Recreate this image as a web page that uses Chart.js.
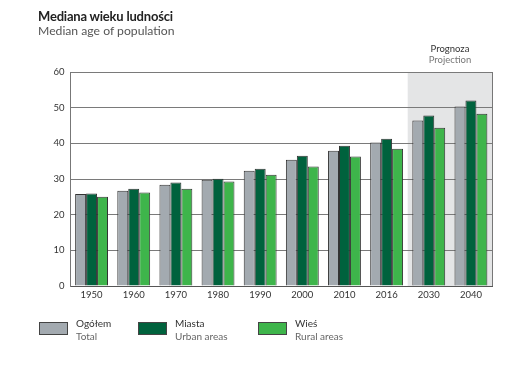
<!DOCTYPE html>
<html>
<head>
<meta charset="utf-8">
<script src="https://cdn.jsdelivr.net/npm/chart.js@4/dist/chart.umd.min.js"></script>
<style>
  html, body { margin: 0; padding: 0; background: #fff; }
  #wrap { position: relative; width: 525px; height: 369px; overflow: hidden; }
  canvas { position: absolute; left: 0; top: 0; }
  .t { position: absolute; font-family: Lato, "Open Sans", sans-serif; white-space: nowrap; }
  .title { left: 38px; top: 8px; font-size: 13px; font-weight: bold; color: #222; letter-spacing: -0.2px; }
  .sub { left: 38px; top: 23px; font-size: 12.2px; color: #555; }
  .proj1 { left: 407px; width: 86px; text-align: center; top: 43px; font-size: 9.5px; color: #333; }
  .proj2 { left: 407px; width: 86px; text-align: center; top: 54px; font-size: 9.5px; color: #777; }
  .sw { position: absolute; width: 29px; height: 13px; border: 1px solid #444; box-sizing: border-box; }
  .l1 { font-size: 10px; color: #333; }
  .l2 { font-size: 10px; color: #666; }
</style>
</head>
<body>
<div id="wrap">
  <canvas id="c" width="525" height="369"></canvas>
  <div class="t title">Mediana wieku ludności</div>
  <div class="t sub">Median age of population</div>
  <div class="t proj1">Prognoza</div>
  <div class="t proj2">Projection</div>
  <div id="legend"></div>
</div>
<script>
// ---- data ----
const categories = ["1950", "1960", "1970", "1980", "1990", "2000", "2010", "2016", "2030", "2040"];
const totalValues = [25.8, 26.7, 28.4, 29.8, 32.3, 35.4, 37.9, 40.2, 46.4, 50.3];
const urbanValues = [25.9, 27.3, 29.0, 30.1, 32.9, 36.5, 39.3, 41.3, 47.8, 52.0];
const ruralValues = [25.0, 26.2, 27.3, 29.3, 31.2, 33.5, 36.3, 38.5, 44.4, 48.3];
const seriesNamesPL = ["Ogółem", "Miasta", "Wieś"];
const seriesNamesEN = ["Total", "Urban areas", "Rural areas"];
const yTicks = [0, 10, 20, 30, 40, 50, 60];
const projectionStart = "2030";

const colors = ["#a3aab0", "#00623d", "#3eb54b"];

// legend (HTML text)
const legendPos = [39, 138, 258];
const legend = document.getElementById("legend");
seriesNamesPL.forEach((n, i) => {
  const sw = document.createElement("div");
  sw.className = "sw";
  sw.style.left = legendPos[i] + "px";
  sw.style.top = "322px";
  sw.style.background = colors[i];
  legend.appendChild(sw);
  const a = document.createElement("div");
  a.className = "t l1"; a.textContent = n;
  a.style.left = (legendPos[i] + 37) + "px"; a.style.top = "317px";
  legend.appendChild(a);
  const b = document.createElement("div");
  b.className = "t l2"; b.textContent = seriesNamesEN[i];
  b.style.left = (legendPos[i] + 37) + "px"; b.style.top = "330px";
  legend.appendChild(b);
});

const projPlugin = {
  id: "proj",
  beforeDraw(chart) {
    const { ctx, chartArea } = chart;
    const x = chart.scales.x;
    const idx = categories.indexOf(projectionStart);
    const left = (x.getPixelForValue(idx - 1) + x.getPixelForValue(idx)) / 2;
    ctx.save();
    ctx.fillStyle = "#e4e5e6";
    ctx.fillRect(left, chartArea.top, chartArea.right - left, chartArea.bottom - chartArea.top);
    ctx.restore();
  },
  afterDraw(chart) {
    const { ctx, chartArea } = chart;
    ctx.save();
    ctx.strokeStyle = "#777";
    ctx.lineWidth = 1;
    ctx.beginPath();
    ctx.moveTo(Math.round(chartArea.right) + 0.5, chartArea.top);
    ctx.lineTo(Math.round(chartArea.right) + 0.5, chartArea.bottom);
    ctx.stroke();
    ctx.restore();
  }
};

const ds = (label, data, color) => ({
  label, data, backgroundColor: color, borderColor: "#333", borderWidth: 1,
  categoryPercentage: 0.78, barPercentage: 1.0
});

new Chart(document.getElementById("c"), {
  type: "bar",
  data: {
    labels: categories,
    datasets: [
      ds(seriesNamesPL[0], totalValues, colors[0]),
      ds(seriesNamesPL[1], urbanValues, colors[1]),
      ds(seriesNamesPL[2], ruralValues, colors[2])
    ]
  },
  options: {
    responsive: false,
    animation: false,
    devicePixelRatio: 1,
    layout: { padding: { left: 0, right: 33, top: 72, bottom: 63 } },
    plugins: { legend: { display: false }, tooltip: { enabled: false }, title: { display: false } },
    scales: {
      x: {
        grid: { display: false, drawTicks: false },
        border: { display: true, color: "#555", width: 1 },
        ticks: { color: "#333", font: { family: "Lato", size: 9.5 }, padding: 3, maxRotation: 0 },
        afterFit(s) { s.height = 20; }
      },
      y: {
        min: 0, max: 60,
        afterBuildTicks(s) { s.ticks = yTicks.map(v => ({ value: v })); },
        grid: { color: "#7a7a7a", lineWidth: 1, drawTicks: false },
        border: { display: true, color: "#777", width: 1 },
        ticks: { color: "#333", font: { family: "Lato", size: 9.5 }, padding: 6 },
        afterFit(s) { s.width = 70.5; }
      }
    }
  },
  plugins: [projPlugin]
});
</script>
</body>
</html>
